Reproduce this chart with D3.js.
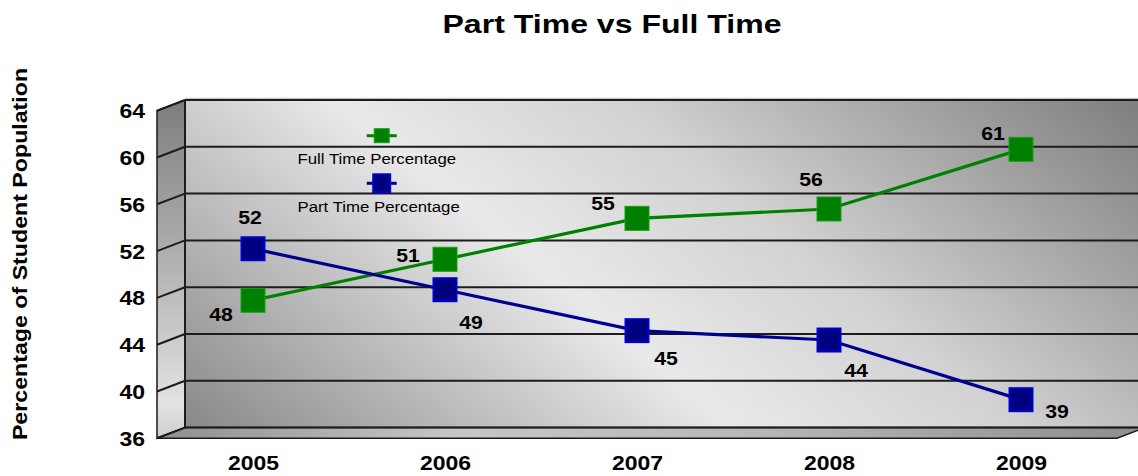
<!DOCTYPE html>
<html>
<head>
<meta charset="utf-8">
<script src="https://cdn.jsdelivr.net/npm/d3@7"></script>
<style>
  html, body { margin: 0; padding: 0; background: #ffffff; }
  svg { display: block; }
  text { font-family: "Liberation Sans", Arial, Helvetica, sans-serif; fill: #000; }
</style>
</head>
<body>
<svg id="chart" width="1138" height="476"></svg>
<script>
// ---- data ----
const years = ["2005", "2006", "2007", "2008", "2009"];
const fullTime = [47.8, 51.3, 54.8, 55.6, 60.7];
const partTime = [52.2, 48.7, 45.2, 44.4, 39.3];
const yTicks = [36, 40, 44, 48, 52, 56, 60, 64];
const seriesNames = ["Full Time Percentage", "Part Time Percentage"];

// hand-placed value label offsets (dx, dy from the marker centre to the label baseline)
const fullLabelOffsets = [[-32, 21], [-37, 3], [-34, -8], [-18, -23], [-28, -9]];
const partLabelOffsets = [[-3, -25], [26, 39], [29, 34], [27, 37], [36, 18]];

// ---- layout ----
const W = 1138, H = 476;
const SX = 1.18;              // horizontal text stretch of the whole drawing
const depthX = 28, depthY = 10.7;  // 3-D wall offset (front -> back)
const front = { left: 157, right: 1117, top: 110.7, bottom: 438.3 };

const svg = d3.select("#chart");
const defs = svg.append("defs");

const x = d3.scalePoint().domain(years).range([front.left, front.right]).padding(0.5);
const y = d3.scaleLinear().domain([36, 64]).range([front.bottom, front.top]);
const yBack = v => y(v) - depthY;
const backLeft = front.left + depthX, backRight = front.right + depthX;

// ---- gradients ----
const wallGrad = defs.append("linearGradient").attr("id", "wallGrad")
  .attr("gradientUnits", "userSpaceOnUse")
  .attr("x1", 265).attr("y1", 612).attr("x2", 899).attr("y2", -161);
[[0, "#767676"], [0.1, "#8b8b8b"], [0.44, "#e9e9e9"], [0.62, "#d2d2d2"], [0.95, "#7e7e7e"], [1, "#7a7a7a"]]
  .forEach(([o, c]) => wallGrad.append("stop").attr("offset", o).attr("stop-color", c));

const sideGrad = defs.append("linearGradient").attr("id", "sideGrad")
  .attr("x1", 0).attr("y1", 0).attr("x2", 0).attr("y2", 1);
[[0, "#7d7d7d"], [0.5, "#b4b4b4"], [0.9, "#e2e2e2"], [1, "#cfcfcf"]]
  .forEach(([o, c]) => sideGrad.append("stop").attr("offset", o).attr("stop-color", c));

const floorGrad = defs.append("linearGradient").attr("id", "floorGrad")
  .attr("x1", 0).attr("y1", 0).attr("x2", 1).attr("y2", 0);
[[0, "#8f8f8f"], [0.3, "#c6c6c6"], [0.6, "#b8b8b8"], [1, "#8e8e8e"]]
  .forEach(([o, c]) => floorGrad.append("stop").attr("offset", o).attr("stop-color", c));

// ---- walls ----
const yMin = d3.min(yTicks), yMax = d3.max(yTicks);

// back wall
svg.append("rect")
  .attr("x", backLeft).attr("y", yBack(yMax))
  .attr("width", backRight - backLeft).attr("height", yBack(yMin) - yBack(yMax))
  .attr("fill", "url(#wallGrad)");

// left side wall
svg.append("path")
  .attr("d", d3.line()([[front.left, y(yMax)], [backLeft, yBack(yMax)], [backLeft, yBack(yMin)], [front.left, y(yMin)]]) + "Z")
  .attr("fill", "url(#sideGrad)")
  .attr("stroke", "#1a1a1a").attr("stroke-width", 1.5);

// floor
svg.append("path")
  .attr("d", d3.line()([[front.left, y(yMin)], [backLeft, yBack(yMin)], [backRight, yBack(yMin)], [front.right, y(yMin)]]) + "Z")
  .attr("fill", "url(#floorGrad)")
  .attr("stroke", "#1a1a1a").attr("stroke-width", 1.5);

// top highlight of back wall
svg.append("line")
  .attr("x1", backLeft).attr("x2", W).attr("y1", yBack(yMax) - 1.5).attr("y2", yBack(yMax) - 1.5)
  .attr("stroke", "#c8c8c8").attr("stroke-width", 1.5);

// gridlines: across the back wall and along the side wall
const grid = svg.append("g").attr("stroke", "#1c1c1c").attr("stroke-width", 2).attr("fill", "none");
grid.selectAll("line.back").data(yTicks).join("line").attr("class", "back")
  .attr("x1", backLeft).attr("x2", backRight)
  .attr("y1", d => yBack(d)).attr("y2", d => yBack(d));
grid.selectAll("line.side").data(yTicks).join("line").attr("class", "side")
  .attr("x1", front.left).attr("x2", backLeft)
  .attr("y1", d => y(d)).attr("y2", d => yBack(d));
grid.append("line")
  .attr("x1", backLeft).attr("x2", backLeft)
  .attr("y1", yBack(yMax)).attr("y2", yBack(yMin));

// ---- axes ----
const yAxis = svg.append("g")
  .attr("transform", `translate(${front.left - 12},0)`)
  .call(d3.axisLeft(y).tickValues(yTicks).tickSize(0).tickFormat(d3.format("d")));
yAxis.select(".domain").remove();
yAxis.selectAll("text")
  .attr("x", 0).attr("dy", "0.36em")
  .attr("font-size", 19.5).attr("font-weight", "bold")
  .attr("font-family", "Liberation Sans, Arial, sans-serif")
  .attr("fill", "#000")
  .attr("transform", `scale(${SX},1)`);

const xAxis = svg.append("g")
  .attr("transform", `translate(0,${front.bottom})`)
  .call(d3.axisBottom(x).tickSize(0));
xAxis.select(".domain").remove();
xAxis.selectAll(".tick").each(function () {
  const t = d3.select(this).select("text");
  t.attr("y", 0).attr("dy", 0)
    .attr("font-size", 20.5).attr("font-weight", "bold")
    .attr("font-family", "Liberation Sans, Arial, sans-serif")
    .attr("fill", "#000")
    .attr("transform", `translate(0,32) scale(${SX * 0.95},1)`);
});

// ---- series ----
const series = [
  { name: seriesNames[0], values: fullTime, offsets: fullLabelOffsets, line: "#008000", fill: "#008000", edge: "#13a313", size: 24, edgeW: 1 },
  { name: seriesNames[1], values: partTime, offsets: partLabelOffsets, line: "#000090", fill: "#000080", edge: "#0000d0", size: 23, edgeW: 2 }
];

const lineGen = d3.line().x((d, i) => x(years[i])).y(d => y(d));

series.forEach(s => {
  svg.append("path")
    .attr("d", lineGen(s.values))
    .attr("fill", "none").attr("stroke", s.line).attr("stroke-width", 3.2);
});

series.forEach(s => {
  svg.append("g").selectAll("rect").data(s.values).join("rect")
    .attr("x", (d, i) => x(years[i]) - s.size / 2)
    .attr("y", d => y(d) - s.size / 2)
    .attr("width", s.size).attr("height", s.size)
    .attr("fill", s.fill).attr("stroke", s.edge).attr("stroke-width", s.edgeW);
});

// value labels
const fmt = d3.format(".0f");
series.forEach(s => {
  svg.append("g").selectAll("text").data(s.values).join("text")
    .attr("transform", (d, i) => `translate(${x(years[i]) + s.offsets[i][0]},${y(d) + s.offsets[i][1]}) scale(${SX},1)`)
    .attr("text-anchor", "middle")
    .attr("font-size", 18).attr("font-weight", "bold")
    .text(d => fmt(d));
});

// ---- legend ----
const legendRows = [
  { s: series[0], markY: 135.7, textY: 163.5, mw: 15, mh: 14 },
  { s: series[1], markY: 183.3, textY: 212, mw: 17, mh: 18 }
];
const legend = svg.append("g");
legendRows.forEach(r => {
  const cx = 381.7;
  legend.append("line")
    .attr("x1", cx - 15).attr("x2", cx + 15).attr("y1", r.markY).attr("y2", r.markY)
    .attr("stroke", r.s.line).attr("stroke-width", 3);
  legend.append("rect")
    .attr("x", cx - r.mw / 2).attr("y", r.markY - r.mh / 2)
    .attr("width", r.mw).attr("height", r.mh)
    .attr("fill", r.s.fill).attr("stroke", r.s.edge).attr("stroke-width", r.s.edgeW);
  legend.append("text")
    .attr("transform", `translate(297.5,${r.textY}) scale(1.12,1)`)
    .attr("font-size", 15).attr("fill", "#1a1a1a")
    .text(r.s.name);
});

// ---- titles ----
svg.append("text")
  .attr("transform", "translate(612,33.3) scale(1.21,1)")
  .attr("text-anchor", "middle")
  .attr("font-size", 26.5).attr("font-weight", "bold")
  .text("Part Time vs Full Time");

svg.append("text")
  .attr("transform", "translate(26.5,254) rotate(-90) scale(1.16,1)")
  .attr("text-anchor", "middle")
  .attr("font-size", 20).attr("font-weight", "bold")
  .text("Percentage of Student Population");
</script>
</body>
</html>
